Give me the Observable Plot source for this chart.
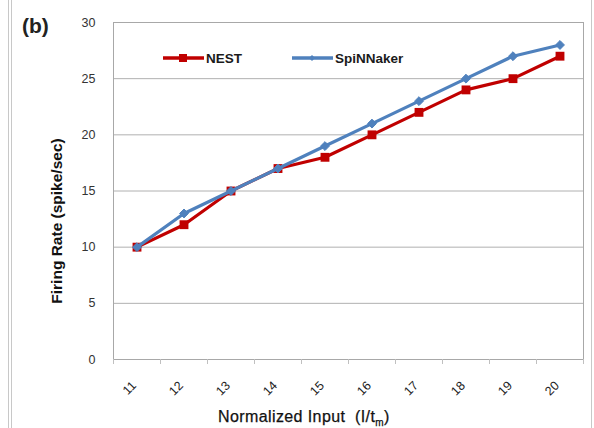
<!DOCTYPE html>
<html>
<head>
<meta charset="utf-8">
<script src="https://cdn.jsdelivr.net/npm/d3@7"></script>
<script src="https://cdn.jsdelivr.net/npm/@observablehq/plot@0.6"></script>
<style>
  html, body { margin: 0; padding: 0; background: #fff; }
  #wrap { position: relative; width: 594px; height: 428px; font-family: "Liberation Sans", Arial, sans-serif; overflow: hidden; }
  #wrap > svg { position: absolute; left: 0; top: 0; }
  .edge { position: absolute; top: 0; width: 0; height: 428px; border-left: 1px solid #c8c8c8; }
  .tag { position: absolute; left: 22px; top: 14px; font-size: 21px; font-weight: bold; color: #222; }
  .legend { position: absolute; top: 48px; font-size: 13.5px; font-weight: bold; color: #1a1a1a; display: flex; align-items: center; }
  .xlab { position: absolute; top: 408px; left: 218px; white-space: nowrap; font-size: 16px; letter-spacing: 0.4px; color: #111; -webkit-text-stroke: 0.25px #111; }
  .xlab sub { font-size: 10px; }
  .ylab { position: absolute; left: 57px; top: 221px; white-space: nowrap; font-size: 15.5px; font-weight: bold; color: #111;
          transform: translate(-50%, -50%) rotate(-90deg); }
</style>
</head>
<body>
<div id="wrap">
  <div class="edge" style="left:8px"></div>
  <div class="edge" style="left:11px"></div>
  <div class="edge" style="left:591px"></div>
  <div class="tag">(b)</div>
  <div id="legend"></div>
  <div class="ylab">Firing Rate (spike/sec)</div>
  <div class="xlab">Normalized Input&nbsp;&nbsp;(I/t<sub>m</sub>)</div>
</div>
<script>
const inputs = [11, 12, 13, 14, 15, 16, 17, 18, 19, 20];
const nest = [10, 12, 15, 17, 18, 20, 22, 24, 25, 27];
const spinnaker = [10, 13, 15, 17, 19, 21, 23, 25, 27, 28];
const yTicks = [0, 5, 10, 15, 20, 25, 30];
const seriesNames = ["NEST", "SpiNNaker"];
const seriesColors = ["#c00000", "#4f81bd"];

const nestData = inputs.map((x, i) => ({x, y: nest[i]}));
const spinData = inputs.map((x, i) => ({x, y: spinnaker[i]}));
const bounds = inputs.map(x => x - 0.5).concat([inputs[inputs.length - 1] + 0.5]);

const chart = Plot.plot({
  width: 594,
  height: 428,
  marginLeft: 113,
  marginRight: 11,
  marginTop: 22,
  marginBottom: 69,
  style: {fontFamily: "'Liberation Sans', Arial, sans-serif", fontSize: "12px", color: "#333", background: "transparent"},
  x: {type: "linear", domain: [bounds[0], bounds[bounds.length - 1]]},
  y: {domain: [0, 30]},
  marks: [
    Plot.gridY(yTicks, {stroke: "#b0b0b0", strokeOpacity: 1}),
    Plot.frame({stroke: "#a8a8a8"}),
    Plot.axisX(bounds, {tickSize: 5, tickFormat: () => "", stroke: "#c0c0c0", label: null}),
    Plot.axisX(inputs, {tickSize: 0, tickRotate: -45, tickPadding: 24, dx: -3, label: null, fontSize: 12.5, fill: "#222"}),
    Plot.axisY(yTicks, {tickSize: 0, tickPadding: 18, fontSize: 12.5, fill: "#333", label: null}),
    Plot.line(nestData, {x: "x", y: "y", stroke: seriesColors[0], strokeWidth: 3.2}),
    Plot.dot(nestData, {x: "x", y: "y", symbol: "square", r: 5, fill: seriesColors[0]}),
    Plot.line(spinData, {x: "x", y: "y", stroke: seriesColors[1], strokeWidth: 3.2}),
    Plot.dot(spinData, {x: "x", y: "y", symbol: "diamond2", r: 4, fill: seriesColors[1], stroke: seriesColors[1], strokeWidth: 1})
  ]
});
document.getElementById("wrap").prepend(chart);

const legendPos = [163, 292];
const legend = document.getElementById("legend");
seriesNames.forEach((name, i) => {
  const item = document.createElement("div");
  item.className = "legend";
  item.style.left = legendPos[i] + "px";
  const marker = i === 0
    ? `<rect x="16" y="6" width="8" height="8" fill="${seriesColors[i]}"/>`
    : `<path d="M20 7 L23 10 L20 13 L17 10 Z" fill="${seriesColors[i]}"/>`;
  item.innerHTML = `<svg width="41" height="20"><line x1="0" x2="41" y1="10" y2="10" stroke="${seriesColors[i]}" stroke-width="3.5"/>${marker}</svg><span style="margin-left:2px">${name}</span>`;
  legend.appendChild(item);
});
</script>
</body>
</html>
